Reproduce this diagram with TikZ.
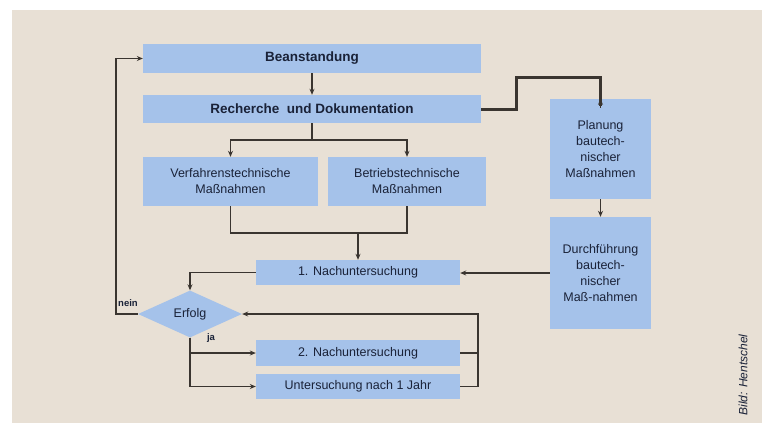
\documentclass[tikz,border=0pt]{standalone}
\usepackage{fontspec}
\setmainfont{Liberation Sans}
\usetikzlibrary{arrows.meta,shapes.geometric}
\definecolor{bgbeige}{HTML}{E8E0D5}
\definecolor{boxblue}{HTML}{A5C2EA}
\definecolor{linec}{HTML}{3A3530}
\definecolor{textc}{HTML}{1A2238}
\tikzset{
  box/.style={fill=boxblue, draw=none, inner sep=0pt, align=center, text=textc, font=\fontsize{12.5}{16}\selectfont},
  boldbox/.style={box, font=\fontsize{13.5}{16}\selectfont\bfseries},
  conn/.style={draw=linec, line width=1.6pt},
  arr/.style={conn, -{Stealth[length=6pt,width=5pt]}},
  lbl/.style={text=textc, font=\fontsize{9.5}{11}\selectfont\bfseries, inner sep=0pt}
}
\begin{document}
\begin{tikzpicture}[x=1pt,y=-1pt]
\useasboundingbox (0,0) rectangle (762,423);
\fill[white] (0,0) rectangle (762,423);
\fill[bgbeige] (12,10) rectangle (762,423);

\node[boldbox, minimum width=338pt, minimum height=29pt] (bean) at (312,58.5) {Beanstandung};
\node[boldbox, minimum width=338pt, minimum height=28pt] (rech) at (312,109) {Recherche\ \ und Dokumentation};
\node[box, minimum width=175pt, minimum height=49pt] (verf) at (230.5,181.5) {Verfahrenstechnische\\Maßnahmen};
\node[box, minimum width=158pt, minimum height=49pt] (betr) at (407,181.5) {Betriebstechnische\\Maßnahmen};
\node[box, minimum width=204pt, minimum height=25pt] (nach1) at (358,272.5) {1. Nachuntersuchung};
\node[box, shape=diamond, aspect=2.2, minimum width=104pt, minimum height=47pt] (erfolg) at (190,314) {Erfolg};
\node[box, minimum width=204pt, minimum height=26pt] (nach2) at (358,353) {2. Nachuntersuchung};
\node[box, minimum width=204pt, minimum height=25pt] (jahr) at (358,386.5) {Untersuchung nach 1 Jahr};
\node[box, minimum width=101pt, minimum height=100pt] (plan) at (600.5,149) {Planung\\bautech-\\nischer\\Maßnahmen};
\node[box, minimum width=101pt, minimum height=112pt] (durch) at (600.5,273) {Durchführung\\bautech-\\nischer\\Maß-nahmen};

\coordinate (j1) at (312,140);
\coordinate (j2) at (358,233);
\coordinate (c1) at (516,77);

\draw[arr] (bean.south) -- (rech.north);
\draw[conn] (rech.south) -- (j1);
\draw[arr] (j1) -| (verf.north);
\draw[arr] (j1) -| (betr.north);
\draw[conn] (verf.south) |- (j2) -| (betr.south);
\draw[arr] (j2) -- (nach1.north);
\draw[arr] (nach1.west) -| (erfolg.north);
\draw[arr] (durch.west) -- (durch.west -| nach1.east);
\draw[arr] (plan.south) -- (durch.north);
\draw[draw=linec, line width=3pt] (rech.east) -| (c1) -| ([yshift=-7pt]plan.north);
\draw[arr] ([yshift=-9pt]plan.north) -- (plan.north);
\draw[arr] (erfolg.west) -- ++(-22,0) coordinate (nn) |- (bean.west);
\draw[arr] (erfolg.south) |- (nach2.west);
\draw[arr] (erfolg.south) |- (jahr.west);
\draw[conn] (nach2.east) -- ++(18,0);
\draw[arr] (jahr.east) -- ++(18,0) |- (erfolg.east);

\node[lbl] (nein) at (128,303) {nein};
\node[lbl] (ja) at (211,338) {ja};
\node[rotate=90, text=textc, font=\fontsize{12}{14}\selectfont\itshape, inner sep=0pt] (bild) at (743,375) {Bild: Hentschel};
\end{tikzpicture}
\end{document}
